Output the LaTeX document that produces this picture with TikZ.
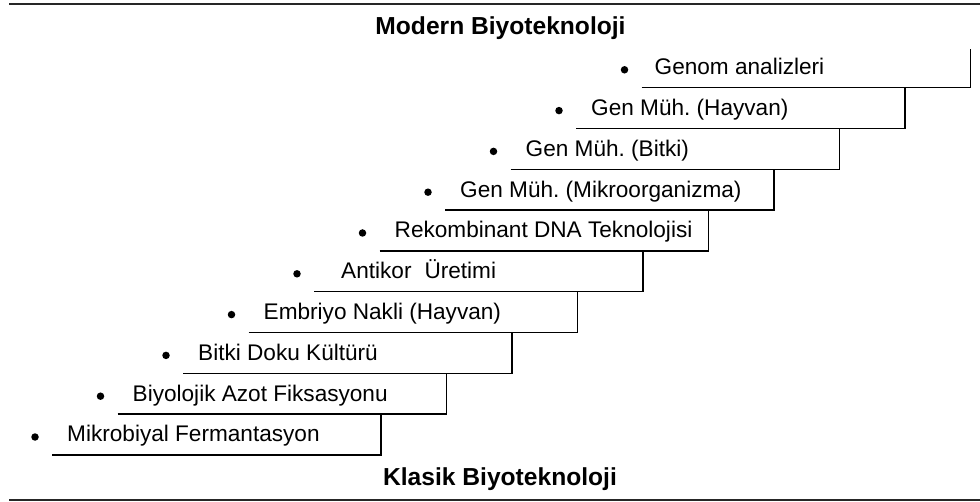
\documentclass[tikz,border=0pt]{standalone}
\usepackage{fontspec}
\setmainfont{Liberation Sans}
\frenchspacing
\begin{document}
\begin{tikzpicture}[x=1pt,y=-1pt,
  stepline/.style={line width=1.4pt, line join=miter},
  rulebar/.style={line width=2pt, black!85},
  steplabel/.style={anchor=base west, inner sep=0pt, font=\fontsize{22.6}{26}\selectfont},
  titletext/.style={anchor=base, inner sep=0pt, font=\fontsize{24.6}{28}\selectfont\bfseries},
  bulletdot/.style={circle, fill=black, inner sep=0pt, minimum size=7.5pt}]
\useasboundingbox (0,0) rectangle (980,502);
\coordinate (tl) at (9,4); \coordinate (tr) at (980,4);
\coordinate (bl) at (9,500); \coordinate (br) at (980,500);
\draw[rulebar] (tl) -- (tr);
\draw[rulebar] (bl) -- (br);
\node[titletext] (modern) at (500.5,35) {Modern Biyoteknoloji};
\node[titletext] (klasik) at (500,485.5) {Klasik Biyoteknoloji};
\foreach \i/\txt/\off in {
  0/{Mikrobiyal Fermantasyon}/15,
  1/{Biyolojik Azot Fiksasyonu}/15,
  2/{Bitki Doku Kültürü}/15,
  3/{Embriyo Nakli (Hayvan)}/15,
  4/{Antikor\hspace{13pt}Üretimi}/27,
  5/{Rekombinant DNA Teknolojisi}/15,
  6/{Gen Müh. (Mikroorganizma)}/15,
  7/{Gen Müh. (Bitki)}/15,
  8/{Gen Müh. (Hayvan)}/15,
  9/{Genom analizleri}/13} {
  \pgfmathsetmacro\xl{52+65.5*\i}
  \pgfmathsetmacro\yy{455-40.8*\i}
  \coordinate (L\i) at (\xl,\yy);
  \coordinate (R\i) at (\xl+329,\yy);
  \node[bulletdot] (b\i) at (\xl-17,\yy-18) {};
  \node[steplabel] (t\i) at (\xl+\off,\yy-13) {\txt};
}
\foreach \i [evaluate=\i as \j using int(\i+1)] in {0,...,8}
  \draw[stepline] (L\i) -- (R\i) -- (R\i |- L\j);
\draw[stepline] (L9) -- (R9) -- ++(0,-39);
\end{tikzpicture}
\end{document}
